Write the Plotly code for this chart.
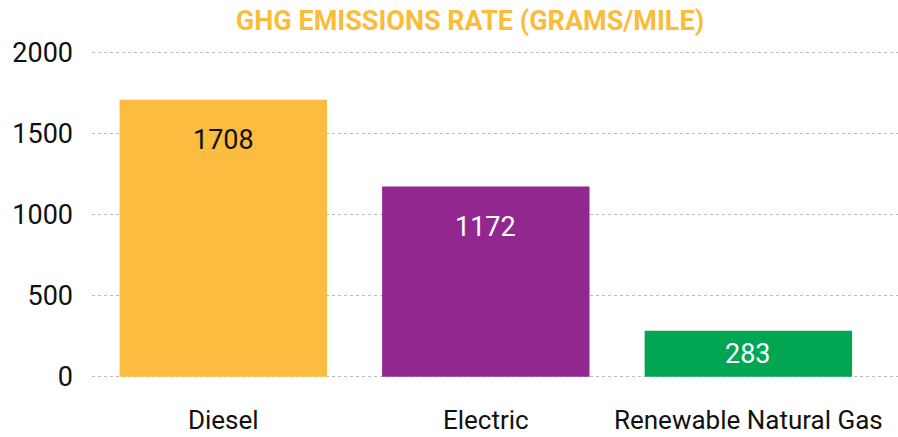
import plotly.graph_objects as go

# valori
carburanti = ["Diesel", "Electric", "Renewable Natural Gas"]
emissioni = [1708, 1172, 283]
colori = ["#FBBC3F", "#92278F", "#00A651"]
colori_testo = ["#111111", "#FFFFFF", "#FFFFFF"]
tick_y = [0, 500, 1000, 1500, 2000]

fig = go.Figure()
fig.add_trace(go.Bar(x=carburanti, y=emissioni, marker=dict(color=colori, line=dict(width=0)),
                     hoverinfo="x+y"))

# etichette dei valori dentro le barre
for c, v, col in zip(carburanti, emissioni, colori_testo):
    fig.add_annotation(x=c, y=v - 250 if v > 500 else v / 2, text=str(v), showarrow=False,
                       font=dict(size=27, color=col, family="Roboto"))

fig.update_layout(
    width=898, height=437,
    margin=dict(l=92, r=0, t=51, b=59),
    paper_bgcolor="white", plot_bgcolor="white",
    bargap=0.21,
    showlegend=False,
    font=dict(family="Roboto", color="#111111"),
    title=dict(text="<b>GHG EMISSIONS RATE (GRAMS/MILE)</b>", x=470 / 898, xanchor="center",
               xref="container", y=1 - 21 / 437, yref="container", yanchor="middle",
               font=dict(size=27, color="#FBBC3A", family="Roboto")),
)
fig.update_xaxes(range=[-0.5, 2.57], showgrid=False, showline=False, zeroline=False,
                 tickfont=dict(size=26), ticklabelstandoff=24, automargin=False)
fig.update_yaxes(range=[-8, 2008], tickvals=tick_y, showgrid=True, gridcolor="#BBBBBB",
                 griddash="dot", gridwidth=1, zeroline=False, showline=False,
                 tickfont=dict(size=27), ticklabelstandoff=18, automargin=False)

# niente margine del body, così la figura parte dall'angolo in alto a sinistra
fig.write_html("out.html", config={"displayModeBar": False},
               post_script="document.body.style.margin='0';")
